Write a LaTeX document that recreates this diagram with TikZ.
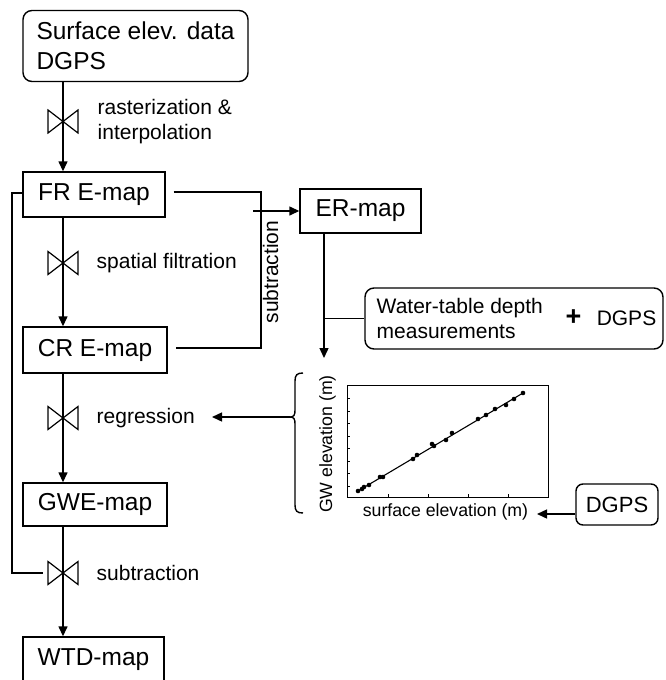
\documentclass[tikz,border=0pt]{standalone}
\usepackage{fontspec}
\setmainfont{Liberation Sans}
\usetikzlibrary{arrows.meta}
\begin{document}
\begin{tikzpicture}[x=1pt,y=-1pt,
  line width=1.4pt,
  boxfont/.style={font=\fontsize{24.5pt}{30pt}\selectfont},
  labfont/.style={font=\fontsize{21pt}{25pt}\selectfont},
  axfont/.style={font=\fontsize{17.7pt}{20pt}\selectfont},
  mapbox/.style={draw, boxfont, inner sep=0pt},
  rbox/.style={draw, rounded corners=9pt, inner sep=0pt},
  lab/.style={labfont, anchor=west, inner sep=0pt},
  arr/.style={-{Triangle[length=10pt,width=9pt]}},
  valve/.pic={\draw[line width=1.2pt] (-15,-11.5) -- (15,11.5) -- (15,-11.5) -- (-15,11.5) -- cycle;},
  dot/.style={fill, circle, inner sep=0pt, minimum size=4.6pt}]
\useasboundingbox (0,0) rectangle (665,680);
\fill[white] (0,0) rectangle (665,680);

% boxes
\node[rbox, boxfont, minimum width=225pt, minimum height=71pt, align=left] (top) at (135.5,46) {Surface elev. data\\DGPS};
\node[mapbox, minimum width=142pt, minimum height=45pt] (fr) at (94,194.5) {FR E-map};
\node[mapbox, minimum width=144pt, minimum height=46pt] (cr) at (95,350) {CR E-map};
\node[mapbox, minimum width=144pt, minimum height=43pt] (gwe) at (95,504.5) {GWE-map};
\node[mapbox, minimum width=141pt, minimum height=46pt] (wtd) at (93.5,660) {WTD-map};
\node[mapbox, minimum width=121pt, minimum height=44pt] (er) at (360.5,211) {ER-map};
\node[rbox, minimum width=298pt, minimum height=61pt] (water) at (514,318.5) {};
\node[labfont, anchor=west, align=left, inner sep=0pt] (wtext) at (376,318) {Water-table depth\\measurements};
\node[font=\fontsize{27pt}{27pt}\selectfont\bfseries, inner sep=0pt] (plus) at (573.5,318) {+};
\node[labfont, inner sep=0pt] (wdgps) at (626.5,318) {DGPS};
\node[rbox, rounded corners=7pt, minimum width=82pt, minimum height=41pt, font=\fontsize{22pt}{24pt}\selectfont] (dgps) at (617,504.5) {DGPS};

% valves
\coordinate (v1) at (63,121.5);
\coordinate (v2) at (63,263);
\coordinate (v3) at (63,418);
\coordinate (v4) at (63,573);

% main chain
\draw[arr] (top.south -| v1) -- (fr.north -| v1);
\draw[arr] (fr.south -| v2) -- (cr.north -| v2);
\draw[arr] (cr.south -| v3) -- (gwe.north -| v3);
\draw[arr] (gwe.south -| v4) -- (wtd.north -| v4);
\pic at (v1) {valve};
\pic at (v2) {valve};
\pic at (v3) {valve};
\pic at (v4) {valve};

\node[lab, align=left] (l1) at (97,121.5) {rasterization \&\\interpolation};
\node[lab] (l2) at (96,263) {spatial filtration};
\node[lab] (l3) at (96,418) {regression};
\node[lab] (l4) at (96,573) {subtraction};

% feedback from FR to subtraction
\coordinate (fbx) at (12,0);
\coordinate (fbend) at (43,573);
\draw ([yshift=1.5pt]fr.west) -- ([yshift=1.5pt]fr.west -| fbx) -- (fbend -| fbx) -- (fbend);

% subtraction FR - CR -> ER
\coordinate (jx) at (253,211);
\draw ([xshift=8pt,yshift=2.5pt]fr.east) -- ([xshift=8pt,yshift=2.5pt]fr.east -| jx) -- ([xshift=8pt,yshift=2pt]cr.east -| jx) -- ([xshift=8pt,yshift=2pt]cr.east);
\draw[arr] (jx) -- (er.west);
\node[labfont, rotate=90, inner sep=0pt] (l5) at (270.5,272) {subtraction};

% ER down to plot
\coordinate (erdown) at (324,358);
\draw[arr] (er.south -| erdown) -- (erdown);
\draw (water.west -| erdown) -- (water.west);

% brace and regression arrow
\coordinate (btip) at (290,417);
\coordinate (regend) at (212,417);
\draw (303,373) .. controls (297,373) and (295,375) .. (295,381) -- (295,410) .. controls (295,415) and (294,417) .. (btip) .. controls (294,417) and (295,419) .. (295,424) -- (295,505) .. controls (295,511) and (297,513) .. (303,513);
\draw[arr] (btip) -- (regend);

% plot
\node[draw, line width=1pt, minimum width=201pt, minimum height=112pt, inner sep=0pt] (plot) at (447.5,441) {};
\foreach \yy in {398.5,411,423.5,436,448.5,461,473.5,486}
  \draw[line width=0.6pt] (347,\yy) -- (350,\yy);
\foreach \xx in {388,428,468,508}
  \draw[line width=0.6pt] (\xx,497) -- (\xx,494);
\draw[line width=1.1pt] (358,491) -- (523,393);
\foreach \px/\py in {358/491,362/489,364/487,369/485,380/477,383/477,413/459,417/455,432/444,434/446,446/440,452/433,478/419,486/415,495/409,506/405,514/399,523/393}
  \node[dot] at (\px,\py) {};
\node[axfont, rotate=90, inner sep=0pt] (ylab) at (327.5,444) {GW elevation (m)};
\node[axfont, inner sep=0pt] (xlab) at (445.5,512) {surface elevation (m)};
\coordinate (xlabend) at (537,514);
\draw[arr] ([yshift=-9.5pt]dgps.west) -- (xlabend);
\end{tikzpicture}
\end{document}
